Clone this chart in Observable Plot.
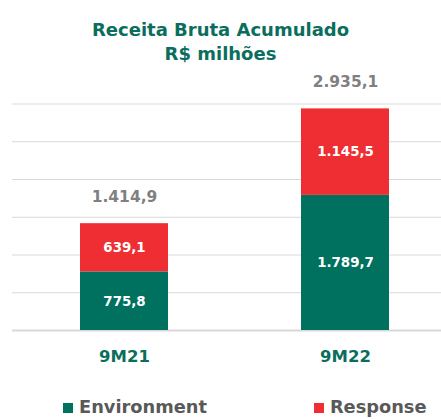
<!DOCTYPE html>
<html>
<head>
<meta charset="utf-8">
<script src="https://cdn.jsdelivr.net/npm/d3@7"></script>
<script src="https://cdn.jsdelivr.net/npm/@observablehq/plot@0.6"></script>
<style>
  html, body { margin: 0; padding: 0; background: #fff; overflow: hidden; }
  body { width: 441px; height: 419px; font-family: "DejaVu Sans", sans-serif; }
  #title { box-sizing: border-box; height: 66px; padding-top: 18px; text-align: center;
    font-size: 18px; line-height: 24px; font-weight: bold; color: #0b6e5d; }
  #title div { white-space: nowrap; }
  #chart svg { display: block; }
  #legend { display: flex; gap: 107px; padding-left: 63px; padding-top: 0px;
    font-size: 17.8px; line-height: 22px; font-weight: bold; color: #595959; white-space: nowrap; }
  .sw { display: inline-block; width: 10px; height: 10px; margin-right: 6px; }
</style>
</head>
<body>
<div id="title"><div>Receita Bruta Acumulado</div><div>R$ milhões</div></div>
<div id="chart"></div>
<div id="legend"></div>
<script>
const periods = ["9M21", "9M22"];
const seriesNames = ["Environment", "Response"];
const environment = [775.8, 1789.7];
const response = [639.1, 1145.5];
const totals = [1414.9, 2935.1];
const yTicks = [0, 500, 1000, 1500, 2000, 2500, 3000];
const colors = ["#00705f", "#ee2e32"];

const locale = d3.formatLocale({decimal: ",", thousands: ".", grouping: [3], currency: ["R$", ""]});
const fmt = locale.format(",.1f");

const rows = [];
periods.forEach((p, i) => {
  rows.push({period: p, series: seriesNames[0], value: environment[i]});
  rows.push({period: p, series: seriesNames[1], value: response[i]});
});
const totalRows = periods.map((p, i) => ({period: p, total: totals[i]}));

const plot = Plot.plot({
  width: 441,
  height: 330,
  marginTop: 37.5,
  marginBottom: 66,
  marginLeft: 12,
  marginRight: 0,
  style: {fontFamily: "DejaVu Sans", background: "transparent"},
  x: {domain: periods, paddingInner: 0.603, paddingOuter: 0.269, align: 0.564, label: null},
  y: {domain: [0, 3000], axis: null},
  color: {domain: seriesNames, range: colors},
  marks: [
    Plot.ruleY(yTicks.filter(d => d > 0), {stroke: "#d9d9d9", strokeWidth: 1.2}),
    Plot.ruleY([0], {stroke: "#d9d9d9", strokeWidth: 2}),
    Plot.barY(rows, {x: "period", y: "value", fill: "series"}),
    Plot.text(rows, Plot.stackY({x: "period", y: "value", z: "series",
      text: d => fmt(d.value), fill: "white", fontWeight: "bold", fontSize: 13.4})),
    Plot.text(totalRows, {x: "period", y: "total", text: d => fmt(d.total),
      lineAnchor: "bottom", dy: -21.4, fill: "#808080", fontWeight: "bold", fontSize: 15.5}),
    Plot.axisX({tickSize: 0, tickPadding: 20, fontSize: 16.5, fontWeight: "bold", fill: "#0b6e5d", label: null})
  ]
});
document.getElementById("chart").appendChild(plot);

const legend = document.getElementById("legend");
seriesNames.forEach((s, i) => {
  const item = document.createElement("span");
  const sw = document.createElement("span");
  sw.className = "sw";
  sw.style.background = colors[i];
  item.appendChild(sw);
  item.appendChild(document.createTextNode(s));
  legend.appendChild(item);
});
</script>
</body>
</html>
